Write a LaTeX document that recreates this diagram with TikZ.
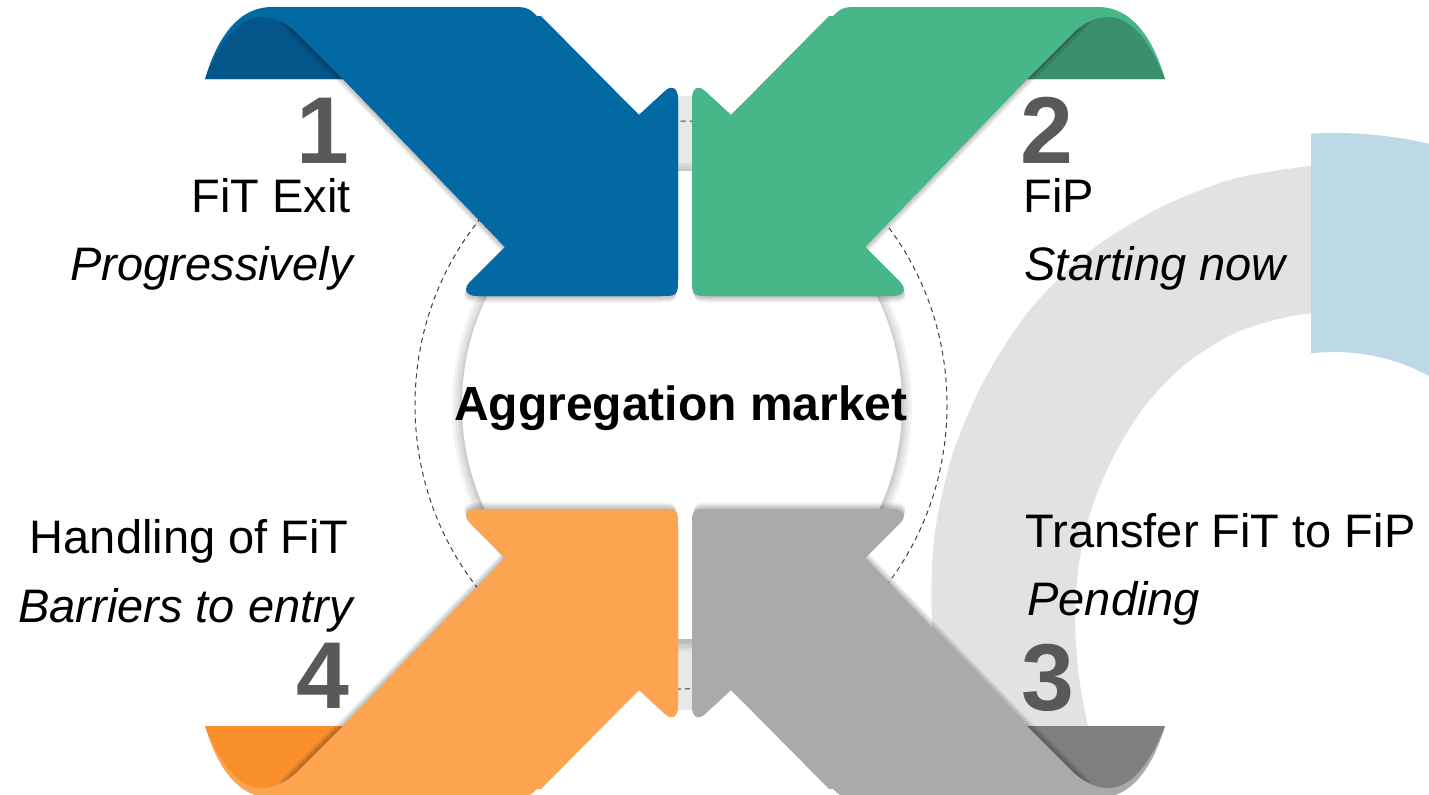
\documentclass[tikz,border=0pt]{standalone}
\usepackage{fontspec}
\setmainfont{Liberation Sans}
\usetikzlibrary{calc}

\definecolor{arrblue}{HTML}{0369A3}
\definecolor{foldblue}{HTML}{04568A}
\definecolor{arrgreen}{HTML}{47B78A}
\definecolor{foldgreen}{HTML}{3A8F6E}
\definecolor{arrorange}{HTML}{FDA451}
\definecolor{foldorange}{HTML}{F98F2B}
\definecolor{arrgrey}{HTML}{AAAAAA}
\definecolor{foldgrey}{HTML}{7F7F7F}
\definecolor{numgrey}{HTML}{595959}
\definecolor{ringgrey}{HTML}{E1E2E4}
\definecolor{segblue}{HTML}{BDD9E6}

% one ribbon arrow, drawn as the top left one
\newcommand{\ribbonpath}{(205,79) .. controls (216,42) and (236,7) .. (272,7)
  -- (510,7) .. controls (528,7) .. (541,20)
  -- (639,115) -- (664,92) .. controls (672,84) and (678,88) .. (678,100)
  -- (678,276) .. controls (678,296) .. (658,296)
  -- (478,296) .. controls (466,296) and (463,289) .. (470,282)
  -- (505,247) -- (343,79) -- cycle}
\newcommand{\bandpath}{(343,79) -- (280,16) -- (541,16)
  -- (639,115) -- (664,92) .. controls (672,84) and (678,88) .. (678,100)
  -- (678,276) .. controls (678,296) .. (658,296)
  -- (478,296) .. controls (466,296) and (463,289) .. (470,282)
  -- (505,247) -- cycle}
\newcommand{\foldpath}{(205,79) .. controls (220,42) and (238,17) .. (262,17)
  .. controls (276,17) and (286,24) .. (296,32) -- (343,79) -- cycle}
\newcommand{\ribbonarrow}[2]{%
  \foreach \s in {1,...,6}
    {\fill[black,opacity=0.045,shift={(-0.3*\s,1.1*\s)}] \bandpath;}
  \fill[#1] \ribbonpath;
  \fill[#2] \foldpath;
  \begin{scope}
    \clip \foldpath;
    \foreach \s in {1,...,6}
      {\fill[black,opacity=0.05,shift={(-0.3*\s,1.1*\s)}] \bandpath;}
  \end{scope}
  \fill[#1] \bandpath;
}

\begin{document}
\begin{tikzpicture}[x=0.5pt,y=-0.5pt,
    num/.style={inner sep=0pt,text=numgrey,font=\fontsize{47.5}{50}\selectfont\bfseries},
    lbl/.style={inner sep=0pt,font=\fontsize{23.5}{28}\selectfont},
    subl/.style={inner sep=0pt,font=\fontsize{23.5}{28}\selectfont\itshape},
    ctr/.style={inner sep=0pt,font=\fontsize{24}{28}\selectfont\bfseries}]
  \useasboundingbox (0,0) rectangle (1429,794);
  \fill[white] (0,0) rectangle (1429,794);

  % ring on the right
  \begin{scope}[shift={(1400,620)}]
    \fill[ringgrey] plot[smooth] coordinates {(-98:462) (-110:471) (-120:477) (-130:482)
        (-140:483) (-150:480) (-160:477) (-170:473) (-180:468) (-190:466) (-200:468)
        (-210:474)}
      -- plot[smooth] coordinates {(-212:340) (-200:330) (-190:326) (-180:325)
        (-170:326) (-160:328) (-150:330) (-140:333) (-130:334) (-120:331) (-110:323)
        (-98:314)} -- cycle;
  \end{scope}
  \begin{scope}
    \clip (1311,0) rectangle (1429,553);
    \fill[segblue,even odd rule] (1334,553) circle[radius=420] (1334,553) circle[radius=201];
  \end{scope}

  % centre
  \fill[black!9] (678,96) rectangle (692,175);
  \fill[black!9] (678,635) rectangle (692,710);
  \draw[black!75,line width=0.5pt,dash pattern=on 2.5pt off 2pt]
    (681,405) ellipse [x radius=266, y radius=284];
  \foreach \r in {10,7,4,2}
    {\fill[black,opacity=0.05] (682,407) ellipse [x radius=220+\r, y radius=234+\r];}
  \fill[white] (682,405) ellipse [x radius=220, y radius=234];

  % arrows
  \begin{scope}
    \ribbonarrow{arrblue}{foldblue}
  \end{scope}
  \begin{scope}[shift={(1370,0)},xscale=-1]
    \ribbonarrow{arrgreen}{foldgreen}
  \end{scope}
  \begin{scope}[shift={(0,805)},yscale=-1]
    \ribbonarrow{arrorange}{foldorange}
  \end{scope}
  \begin{scope}[shift={(1370,805)},xscale=-1,yscale=-1]
    \ribbonarrow{arrgrey}{foldgrey}
  \end{scope}

  % texts
  \node[ctr,anchor=base] (agg) at (681,420) {Aggregation market};

  \node[num,anchor=base east] (n1) at (350,163) {1};
  \node[lbl,anchor=base east] (t1) at (351,212) {FiT Exit};
  \node[subl,anchor=base east] (s1) at (353,280) {Progressively};

  \node[num,anchor=base west] (n2) at (1020,163) {2};
  \node[lbl,anchor=base west] (t2) at (1023,212) {FiP};
  \node[subl,anchor=base west] (s2) at (1024,280) {Starting now};

  \node[lbl,anchor=base west] (t3) at (1025,547) {Transfer FiT to FiP};
  \node[subl,anchor=base west] (s3) at (1027,615) {Pending};
  \node[num,anchor=base west] (n3) at (1021,710) {3};

  \node[lbl,anchor=base east] (t4) at (349,553) {Handling of FiT};
  \node[subl,anchor=base east] (s4) at (353,622) {Barriers to entry};
  \node[num,anchor=base east] (n4) at (350,708) {4};
\end{tikzpicture}
\end{document}
